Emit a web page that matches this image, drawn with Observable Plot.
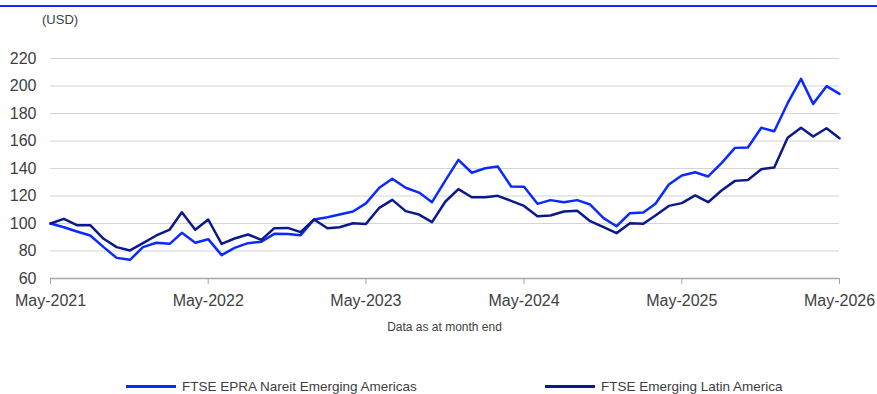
<!DOCTYPE html>
<html>
<head>
<meta charset="utf-8">
<script src="https://cdn.jsdelivr.net/npm/d3@7"></script>
<script src="https://cdn.jsdelivr.net/npm/@observablehq/plot@0.6"></script>
<style>
  html, body { margin: 0; padding: 0; background: #fff; }
  #wrap { position: relative; width: 877px; height: 394px; overflow: hidden; font-family: "Liberation Sans", Arial, sans-serif; color: #404040; }
  #rule { position: absolute; left: 0; top: 5px; width: 877px; height: 2px; background: #1a22ff; }
  #unit { position: absolute; left: 42px; top: 12px; font-size: 13px; }
  #note { position: absolute; left: 0; width: 889px; top: 320px; text-align: center; font-size: 12px; }
  #chart { position: absolute; left: 0; top: 0; }
  .leg { position: absolute; top: 379px; font-size: 13.5px; white-space: nowrap; display: flex; align-items: center; }
  .sw { display: inline-block; width: 50px; height: 3px; margin-right: 6px; }
</style>
</head>
<body>
<div id="wrap">
  <div id="chart"></div>
  <div id="rule"></div>
  <div id="unit">(USD)</div>
  <div id="note">Data as at month end</div>
  <div class="leg" style="left:126px"><span class="sw" style="background:#0a2aff"></span>FTSE EPRA Nareit Emerging Americas</div>
  <div class="leg" style="left:545px"><span class="sw" style="background:#0b1a8a"></span>FTSE Emerging Latin America</div>
</div>
<script>
const months = [
  "2021-05","2021-06","2021-07","2021-08","2021-09","2021-10","2021-11","2021-12",
  "2022-01","2022-02","2022-03","2022-04","2022-05","2022-06","2022-07","2022-08","2022-09","2022-10","2022-11","2022-12",
  "2023-01","2023-02","2023-03","2023-04","2023-05","2023-06","2023-07","2023-08","2023-09","2023-10","2023-11","2023-12",
  "2024-01","2024-02","2024-03","2024-04","2024-05","2024-06","2024-07","2024-08","2024-09","2024-10","2024-11","2024-12",
  "2025-01","2025-02","2025-03","2025-04","2025-05","2025-06","2025-07","2025-08","2025-09","2025-10","2025-11","2025-12",
  "2026-01","2026-02","2026-03","2026-04","2026-05"
];
const americas = [100, 97.3, 94.2, 91.3, 82.8, 75, 73.6, 82.8, 86, 85.2, 93.2, 86, 88.6,
  77, 82.3, 85.7, 86.7, 92.5, 92.3, 91.5, 102.9, 104.6, 106.5, 108.7, 114.6,
  126, 132.5, 126, 122.5, 115.5, 131.3, 146.3, 136.9, 140.2, 141.5, 126.9, 126.8,
  114.3, 117, 115.5, 117, 113.8, 103.9, 98, 107.5, 108, 114.3, 128.3,
  134.9, 137.3, 134.2, 143.9, 155, 155.3, 169.6, 167.1, 187.5, 205.2, 187, 199.9, 194.3];
const latam = [100, 103.4, 98.8, 98.8, 88.9, 82.8, 80.4, 85.7, 91.3, 95.6, 108.2, 95.4, 102.9,
  85.2, 89.1, 92, 88.1, 96.6, 96.8, 93.7, 102.9, 96.6, 97.3, 100.2, 99.7,
  111.4, 117.2, 109, 106.5, 101, 116, 125, 119.1, 119.1, 120.1, 116.5, 112.8,
  105.3, 105.8, 108.7, 109.2, 101.7, 97.3, 93, 100.2, 99.8, 105.8, 112.8,
  114.8, 120.4, 115.5, 124, 131, 131.7, 139.5, 140.7, 162.3, 169.6, 163.3, 169.3, 162];
const yTicks = [60, 80, 100, 120, 140, 160, 180, 200, 220];
const xTickLabels = ["2021-05","2022-05","2023-05","2024-05","2025-05","2026-05"];

const parse = d3.utcParse("%Y-%m");
const dates = months.map(parse);
const xTicks = xTickLabels.map(parse);
const A = dates.map((d, i) => ({date: d, value: americas[i]}));
const L = dates.map((d, i) => ({date: d, value: latam[i]}));

const chart = Plot.plot({
  width: 877,
  height: 345,
  marginLeft: 50,
  marginRight: 38,
  marginTop: 58,
  marginBottom: 67,
  style: {fontFamily: "Liberation Sans, Arial, sans-serif", color: "#404040", background: "transparent"},
  x: {type: "utc", domain: [dates[0], dates[dates.length - 1]]},
  y: {domain: [60, 220]},
  marks: [
    Plot.gridY(yTicks.filter(t => t > 60), {stroke: "#d4d4d4", strokeOpacity: 1, strokeWidth: 1.2}),
    Plot.axisY(yTicks, {tickSize: 0, tickPadding: 14, fontSize: 16, fill: "#404040", label: null}),
    Plot.ruleY([60], {stroke: "#a6a6a6", strokeWidth: 1.5}),
    Plot.axisX(xTicks, {tickSize: 6, stroke: "#a6a6a6", tickFormat: d3.utcFormat("%b-%Y"), tickPadding: 10, fontSize: 16, fill: "#404040", label: null}),
    Plot.lineY(A, {x: "date", y: "value", stroke: "#0a2aff", strokeWidth: 2.5}),
    Plot.lineY(L, {x: "date", y: "value", stroke: "#0b1a8a", strokeWidth: 2.5})
  ]
});
document.getElementById("chart").appendChild(chart);
</script>
</body>
</html>
